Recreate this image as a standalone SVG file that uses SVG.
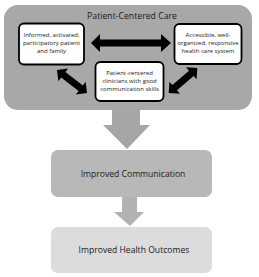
<svg xmlns="http://www.w3.org/2000/svg" width="259" height="277" viewBox="0 0 259 277">
<style>
.t{font-family:"Open Sans","Liberation Sans",sans-serif;fill:#1a1a1a;text-anchor:middle}
.s{font-size:6px}
.wb{fill:#fff;stroke:#000;stroke-width:1.8}
.ar{fill:#000}
</style>
<rect width="259" height="277" fill="#fff"/>
<g id="patient-centered-care">
<rect x="4" y="5" width="248" height="105" rx="14" fill="#a8a8a8"/>
<text class="t" x="132" y="19" font-size="8.7">Patient-Centered Care</text>
</g>
<g id="down-arrows">
<polygon points="112,110 140,110 140,125 150,125 127,149 103,125 112,125" fill="#a6a6a6"/>
<polygon points="122,197 137,197 137,212 144,212 130,226 114,212 122,212" fill="#b2b2b2"/>
</g>
<g id="connectors">
<polygon class="ar" points="91,43 100,34 100,39.5 161,39.5 161,34 171,43 161,52 161,46.5 100,46.5 100,52"/>
<polygon class="ar" transform="translate(72,81.5) rotate(37.5)" points="-19,0 -11,-8 -11,-3.5 11,-3.5 11,-8 19,0 11,8 11,3.5 -11,3.5 -11,8"/>
<polygon class="ar" transform="translate(183,80.5) rotate(-41)" points="-19,0 -11,-8 -11,-3.5 11,-3.5 11,-8 19,0 11,8 11,3.5 -11,3.5 -11,8"/>
</g>
<g id="patient-family">
<rect class="wb" x="19" y="23.5" width="65" height="41" rx="5"/>
<text class="t s" x="51.5" y="37">Informed, activated,</text>
<text class="t s" x="51.5" y="45">participatory patient</text>
<text class="t s" x="51.5" y="53">and family</text>
</g>
<g id="health-care-system">
<rect class="wb" x="174.5" y="24" width="67" height="40" rx="5"/>
<text class="t s" x="208" y="37">Accessible, well-</text>
<text class="t s" x="208" y="45">organized, responsive</text>
<text class="t s" x="208" y="53">health care system</text>
</g>
<g id="clinicians">
<rect class="wb" x="95.5" y="62" width="68" height="39" rx="5"/>
<text class="t s" x="129.5" y="75">Patient-centered</text>
<text class="t s" x="129.5" y="83">clinicians with good</text>
<text class="t s" x="129.5" y="91">communication skills</text>
</g>
<g id="improved-communication">
<rect x="51" y="150" width="161" height="47" rx="7" fill="#b8b8b8"/>
<text class="t" x="133" y="177" font-size="8.6">Improved Communication</text>
</g>
<g id="improved-health-outcomes">
<rect x="51" y="227" width="161" height="46" rx="7" fill="#dcdcdc"/>
<text class="t" x="134" y="253" font-size="8.6">Improved Health Outcomes</text>
</g>
</svg>
